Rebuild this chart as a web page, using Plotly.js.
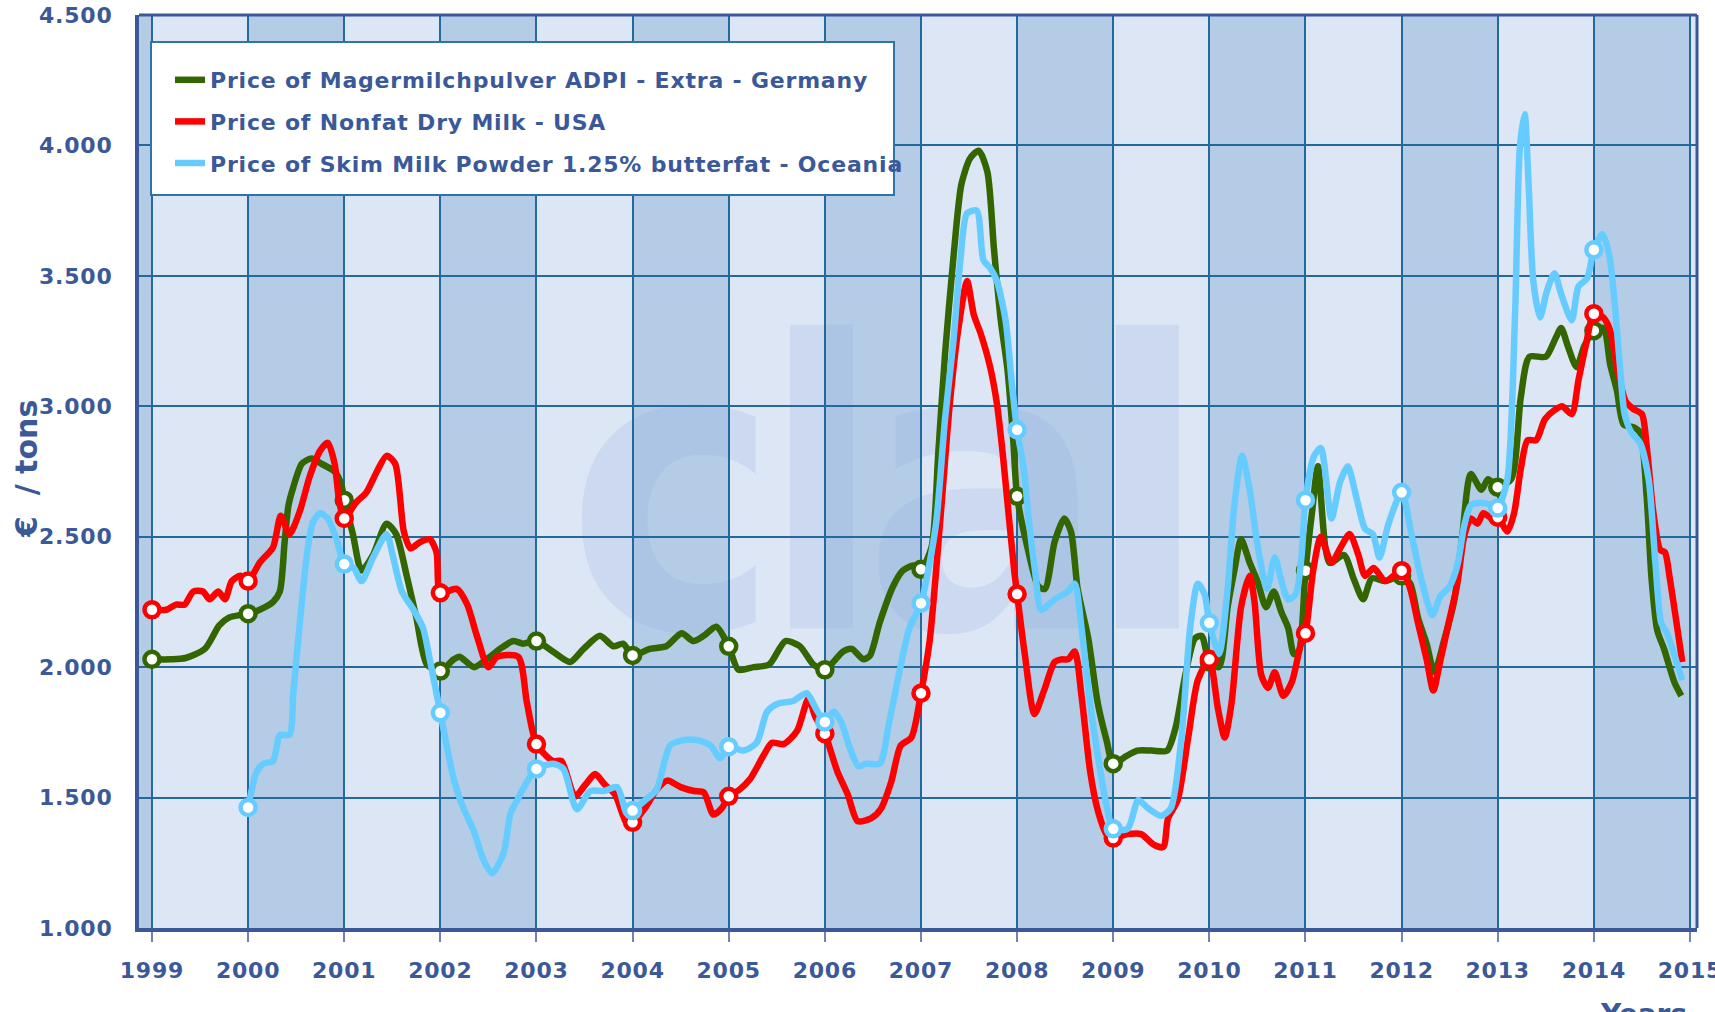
<!DOCTYPE html>
<html>
<head>
<meta charset="utf-8">
<script src="https://cdn.plot.ly/plotly-3.0.1.min.js"></script>
<style>
html,body{margin:0;padding:0;background:#ffffff;}
#chart{width:1715px;height:1012px;}
.legendtext{letter-spacing:0.8px;}
.xtick text,.ytick text{letter-spacing:0.8px;}
.shape-label-text{letter-spacing:-20px;}
</style>
</head>
<body>
<div id="chart"></div>
<script>
// ---- tick labels ----
const yearTicks = [1999,2000,2001,2002,2003,2004,2005,2006,2007,2008,2009,2010,2011,2012,2013,2014,2015];
const yearLabels = ['1999','2000','2001','2002','2003','2004','2005','2006','2007','2008','2009','2010','2011','2012','2013','2014','2015'];
const valueTicks = [1000,1500,2000,2500,3000,3500,4000,4500];
const valueLabels = ['1.000','1.500','2.000','2.500','3.000','3.500','4.000','4.500'];
const seriesNames = [
  'Price of Magermilchpulver ADPI - Extra - Germany',
  'Price of Nonfat Dry Milk - USA',
  'Price of Skim Milk Powder 1.25% butterfat - Oceania'
];
const yTitle = '€\u00a0\u00a0/ tons';
const xTitle = 'Years';

// ---- series values: [year, €/ton] ----
const germany = [
 [1999.00,2030],[1999.20,2030],[1999.35,2035],[1999.55,2070],[1999.70,2160],[1999.80,2190],[1999.92,2200],
 [2000.00,2205],[2000.12,2220],[2000.26,2250],[2000.33,2290],[2000.38,2480],[2000.42,2620],[2000.47,2690],[2000.56,2780],[2000.66,2800],[2000.76,2780],[2000.90,2750],[2000.97,2700],
 [2001.00,2640],[2001.09,2510],[2001.18,2370],[2001.30,2430],[2001.44,2550],[2001.54,2510],[2001.65,2350],[2001.75,2190],[2001.86,2010],
 [2002.00,1985],[2002.14,2030],[2002.20,2040],[2002.35,2000],[2002.48,2030],[2002.62,2070],[2002.76,2100],[2002.86,2090],
 [2003.00,2100],[2003.17,2060],[2003.35,2020],[2003.49,2070],[2003.66,2120],[2003.80,2080],[2003.90,2090],
 [2004.00,2045],[2004.18,2070],[2004.35,2080],[2004.51,2130],[2004.63,2100],[2004.74,2120],[2004.87,2155],
 [2005.00,2080],[2005.10,1990],[2005.26,2000],[2005.42,2010],[2005.59,2100],[2005.74,2080],[2005.88,2010],
 [2006.00,1990],[2006.19,2060],[2006.28,2070],[2006.40,2030],[2006.47,2045],[2006.57,2170],[2006.71,2310],[2006.81,2370],[2006.92,2390],
 [2007.00,2375],[2007.11,2460],[2007.18,2820],[2007.25,3200],[2007.34,3580],[2007.42,3850],[2007.51,3950],[2007.60,3980],[2007.69,3900],[2007.76,3600],[2007.83,3330],[2007.90,3140],[2007.96,2870],
 [2008.00,2655],[2008.11,2455],[2008.22,2310],[2008.29,2300],[2008.39,2480],[2008.49,2570],[2008.56,2520],[2008.63,2300],[2008.74,2110],[2008.84,1860],[2008.93,1720],
 [2009.00,1630],[2009.14,1660],[2009.25,1680],[2009.40,1680],[2009.56,1680],[2009.65,1770],[2009.75,1970],[2009.85,2110],[2009.92,2120],
 [2010.00,2020],[2010.10,2000],[2010.19,2230],[2010.26,2370],[2010.33,2490],[2010.42,2400],[2010.50,2330],[2010.59,2230],[2010.67,2290],[2010.75,2210],[2010.82,2150],[2010.88,2050],[2010.93,2060],
 [2011.00,2370],[2011.07,2600],[2011.13,2770],[2011.25,2400],[2011.40,2430],[2011.50,2340],[2011.60,2260],[2011.69,2340],[2011.83,2330],
 [2012.00,2350],[2012.09,2320],[2012.17,2190],[2012.26,2090],[2012.34,1980],[2012.44,2100],[2012.55,2260],[2012.63,2500],[2012.72,2740],[2012.83,2680],[2012.90,2720],
 [2013.00,2690],[2013.14,2720],[2013.24,3035],[2013.33,3190],[2013.50,3190],[2013.60,3260],[2013.66,3300],[2013.73,3230],[2013.82,3150],[2013.90,3230],
 [2014.00,3290],[2014.10,3300],[2014.17,3160],[2014.24,3060],[2014.31,2930],[2014.41,2920],[2014.48,2900],[2014.55,2650],[2014.60,2340],[2014.66,2140],[2014.73,2070],[2014.84,1940],[2014.91,1890]
];
const usa = [
 [1999.00,2220],[1999.15,2220],[1999.25,2240],[1999.34,2240],[1999.43,2290],[1999.53,2290],[1999.60,2260],[1999.69,2290],[1999.76,2260],[1999.83,2330],[1999.92,2350],
 [2000.00,2330],[2000.12,2400],[2000.26,2460],[2000.34,2580],[2000.43,2510],[2000.54,2600],[2000.64,2730],[2000.75,2830],[2000.83,2860],[2000.90,2780],[2000.95,2630],
 [2001.00,2570],[2001.12,2630],[2001.23,2670],[2001.34,2750],[2001.44,2810],[2001.53,2780],[2001.62,2520],[2001.69,2455],[2001.79,2480],[2001.89,2490],[2001.96,2440],
 [2002.00,2285],[2002.17,2300],[2002.28,2240],[2002.38,2120],[2002.50,2000],[2002.59,2040],[2002.81,2040],[2002.90,1865],
 [2003.00,1705],[2003.17,1640],[2003.26,1640],[2003.40,1505],[2003.51,1550],[2003.61,1590],[2003.71,1550],[2003.82,1510],[2003.94,1400],
 [2004.00,1405],[2004.13,1460],[2004.25,1530],[2004.36,1565],[2004.50,1540],[2004.64,1525],[2004.74,1520],[2004.84,1435],[2004.93,1460],
 [2005.00,1505],[2005.11,1530],[2005.22,1570],[2005.36,1660],[2005.45,1710],[2005.57,1705],[2005.71,1755],[2005.83,1880],[2005.90,1810],
 [2006.00,1745],[2006.13,1600],[2006.24,1510],[2006.34,1410],[2006.48,1420],[2006.58,1455],[2006.69,1560],[2006.79,1700],[2006.90,1730],
 [2007.00,1900],[2007.09,2100],[2007.20,2560],[2007.30,3010],[2007.39,3300],[2007.48,3480],[2007.55,3350],[2007.62,3280],[2007.72,3150],[2007.79,3010],[2007.85,2820],[2007.90,2630],[2007.97,2370],
 [2008.00,2280],[2008.08,2050],[2008.18,1820],[2008.28,1910],[2008.39,2020],[2008.46,2030],[2008.53,2030],[2008.60,2060],[2008.67,1890],[2008.76,1600],[2008.84,1450],[2008.93,1360],
 [2009.00,1345],[2009.15,1360],[2009.29,1360],[2009.42,1320],[2009.52,1310],[2009.57,1420],[2009.67,1490],[2009.78,1730],[2009.88,1950],
 [2010.00,2030],[2010.09,1840],[2010.16,1730],[2010.23,1860],[2010.33,2230],[2010.42,2350],[2010.47,2250],[2010.54,1970],[2010.61,1920],[2010.68,1980],[2010.77,1890],[2010.86,1945],[2010.95,2085],
 [2011.00,2130],[2011.08,2370],[2011.16,2500],[2011.27,2400],[2011.36,2455],[2011.46,2510],[2011.55,2430],[2011.62,2350],[2011.71,2380],[2011.83,2330],
 [2012.00,2370],[2012.09,2300],[2012.17,2170],[2012.26,2030],[2012.33,1910],[2012.40,2020],[2012.49,2170],[2012.58,2320],[2012.65,2500],[2012.72,2570],[2012.79,2550],[2012.85,2590],[2012.94,2570],
 [2013.00,2575],[2013.10,2520],[2013.17,2590],[2013.24,2760],[2013.31,2870],[2013.40,2870],[2013.49,2950],[2013.59,2985],[2013.67,3000],[2013.77,2970],[2013.84,3100],[2013.92,3240],
 [2014.00,3355],[2014.10,3340],[2014.17,3290],[2014.24,3150],[2014.33,3020],[2014.41,2990],[2014.50,2970],[2014.55,2845],[2014.62,2590],[2014.69,2450],[2014.74,2440],[2014.79,2340],[2014.92,2020]
];
const oceania = [
 [2000.00,1462],[2000.09,1600],[2000.16,1630],[2000.26,1640],[2000.30,1700],[2000.33,1740],[2000.43,1740],[2000.47,1900],[2000.52,2100],[2000.57,2290],[2000.63,2480],[2000.68,2560],[2000.75,2590],[2000.83,2570],[2000.92,2490],
 [2001.00,2395],[2001.10,2380],[2001.18,2330],[2001.30,2420],[2001.44,2510],[2001.51,2420],[2001.60,2290],[2001.72,2220],[2001.82,2150],[2001.89,2030],
 [2002.00,1825],[2002.14,1570],[2002.24,1460],[2002.35,1370],[2002.45,1260],[2002.54,1210],[2002.66,1290],[2002.73,1440],[2002.80,1490],[2002.90,1560],
 [2003.00,1610],[2003.17,1630],[2003.28,1610],[2003.42,1455],[2003.56,1525],[2003.70,1525],[2003.84,1540],[2003.94,1440],
 [2004.00,1450],[2004.13,1490],[2004.25,1530],[2004.39,1700],[2004.53,1720],[2004.67,1720],[2004.81,1700],[2004.91,1650],
 [2005.00,1695],[2005.15,1680],[2005.29,1710],[2005.40,1830],[2005.51,1860],[2005.67,1870],[2005.81,1900],[2005.91,1840],
 [2006.00,1790],[2006.09,1830],[2006.17,1790],[2006.26,1690],[2006.35,1620],[2006.43,1630],[2006.57,1630],[2006.67,1790],[2006.78,1990],[2006.88,2150],
 [2007.00,2245],[2007.09,2400],[2007.16,2560],[2007.25,2950],[2007.34,3260],[2007.41,3560],[2007.48,3740],[2007.58,3750],[2007.65,3560],[2007.72,3530],[2007.79,3480],[2007.88,3330],[2007.95,3070],
 [2008.00,2910],[2008.07,2760],[2008.12,2570],[2008.19,2360],[2008.25,2220],[2008.39,2260],[2008.53,2290],[2008.60,2320],[2008.67,2150],[2008.76,1860],[2008.84,1660],[2008.93,1470],
 [2009.00,1380],[2009.15,1380],[2009.26,1490],[2009.36,1460],[2009.50,1430],[2009.60,1460],[2009.71,1730],[2009.80,2150],[2009.88,2320],[2009.95,2280],
 [2010.00,2170],[2010.10,2050],[2010.19,2300],[2010.26,2620],[2010.34,2810],[2010.42,2680],[2010.50,2470],[2010.60,2300],[2010.68,2420],[2010.75,2330],[2010.82,2260],[2010.90,2280],[2010.96,2430],
 [2011.00,2640],[2011.09,2810],[2011.16,2840],[2011.27,2570],[2011.36,2710],[2011.44,2770],[2011.53,2650],[2011.62,2530],[2011.70,2510],[2011.77,2420],[2011.86,2545],
 [2012.00,2670],[2012.10,2515],[2012.19,2360],[2012.32,2200],[2012.40,2270],[2012.50,2310],[2012.58,2390],[2012.65,2540],[2012.72,2620],[2012.83,2630],[2012.94,2620],
 [2013.00,2610],[2013.10,2720],[2013.18,3350],[2013.23,3990],[2013.28,4120],[2013.32,3860],[2013.37,3480],[2013.44,3340],[2013.51,3440],[2013.59,3510],[2013.66,3430],[2013.77,3330],[2013.84,3460],[2013.93,3490],
 [2014.00,3600],[2014.09,3660],[2014.16,3580],[2014.22,3380],[2014.27,3160],[2014.32,2970],[2014.39,2900],[2014.48,2860],[2014.57,2720],[2014.64,2400],[2014.70,2170],[2014.76,2130],[2014.92,1950]
];

// ---- styles ----
const seriesColors = ['#336600', '#ff0000', '#66ccff'];
const textColor = '#3b5998';
const gridColor = '#23699b';
const bandLight = '#dce6f5';
const bandDark = '#b4cce6';
const fontFam = 'DejaVu Sans, Verdana, sans-serif';

const allSeries = [germany, usa, oceania];
const traces = [];
allSeries.forEach(function(s, i){
  const xs = s.map(p => p[0]);
  const ys = s.map(p => p[1]);
  traces.push({
    type:'scatter', mode:'lines', name:seriesNames[i], x:xs, y:ys,
    legendgroup:'g'+i,
    line:{color:seriesColors[i], width:6.5, shape:'spline', smoothing:0.7},
    hoverinfo:'skip'
  });
  const yearStarts = s.filter(p => Math.abs(p[0]-Math.round(p[0]))<1e-6);
  traces.push({
    type:'scatter', mode:'markers', showlegend:false, legendgroup:'g'+i,
    x:yearStarts.map(p=>p[0]), y:yearStarts.map(p=>p[1]),
    marker:{size:15, color:'#ffffff', line:{color:seriesColors[i], width:4.5}},
    hoverinfo:'skip'
  });
});

// alternating year bands
const shapes = [];
for (let yr = 1998; yr <= 2015; yr++) {
  if (yr % 2 === 0) {
    shapes.push({type:'rect', xref:'x', yref:'paper', x0:yr, x1:yr+1, y0:0, y1:1,
      fillcolor:bandDark, line:{width:0}, layer:'below'});
  }
}
// watermark
shapes.push({type:'rect', xref:'x', yref:'y', x0:2003.5, x1:2009.6, y0:1790, y1:3790,
  fillcolor:'rgba(0,0,0,0)', line:{width:0}, layer:'below',
  label:{text:'clal', textposition:'middle center', padding:0,
    font:{family:'Liberation Sans Narrow, DejaVu Sans Condensed, sans-serif', size:400, weight:'bold', color:'rgba(150,172,222,0.22)'}}});
// top and right frame
shapes.push({type:'line', xref:'paper', yref:'paper', x0:0, x1:1, y0:1, y1:1, line:{color:textColor, width:3}, layer:'above'});
shapes.push({type:'line', xref:'paper', yref:'paper', x0:1, x1:1, y0:0, y1:1, line:{color:textColor, width:3}, layer:'above'});
// legend box
shapes.push({type:'rect', xref:'paper', yref:'paper', x0:0.0077, x1:0.4846, y0:0.8028, y1:0.9704,
  fillcolor:'#ffffff', line:{color:'#2f73a8', width:2}, layer:'above'});

const tickFont = {family:fontFam, size:22, color:textColor, weight:'bold'};

const layout = {
  width:1715, height:1012,
  margin:{l:139, r:18, t:15, b:84, pad:0},
  paper_bgcolor:'#ffffff', plot_bgcolor:bandLight,
  showlegend:true,
  legend:{x:0.0199, y:0.9518, xanchor:'left', yanchor:'top',
    bgcolor:'rgba(0,0,0,0)', borderwidth:0, traceorder:'grouped', tracegroupgap:10,
    font:{family:fontFam, size:22, color:textColor, weight:'bold'}, itemwidth:30},
  xaxis:{type:'linear', range:[1998.865, 2015.073], tickvals:yearTicks, ticktext:yearLabels,
    showgrid:true, gridcolor:gridColor, gridwidth:2, zeroline:false,
    showline:true, linecolor:textColor, linewidth:4,
    ticks:'outside', ticklen:10, tickwidth:2, tickcolor:'#6d84b4',
    tickfont:tickFont, ticklabelstandoff:10, ticklabeloverflow:'allow', fixedrange:true},
  yaxis:{range:[1000, 4500], tickvals:valueTicks, ticktext:valueLabels,
    showgrid:true, gridcolor:gridColor, gridwidth:2, zeroline:false,
    showline:true, linecolor:textColor, linewidth:4, ticks:'',
    tickfont:tickFont, ticklabelstandoff:18, fixedrange:true},
  shapes:shapes,
  annotations:[
    {text:yTitle, xref:'paper', yref:'paper', x:-0.0725, y:0.5027, textangle:-90,
     xanchor:'center', yanchor:'middle', showarrow:false,
     font:{family:fontFam, size:30, color:textColor, weight:'bold'}},
    {text:xTitle, xref:'paper', yref:'paper', x:0.9654, y:-0.0745,
     xanchor:'center', yanchor:'top', showarrow:false,
     font:{family:fontFam, size:28, color:textColor, weight:'bold'}}
  ]
};

Plotly.newPlot('chart', traces, layout, {staticPlot:true, displayModeBar:false});
</script>
</body>
</html>
